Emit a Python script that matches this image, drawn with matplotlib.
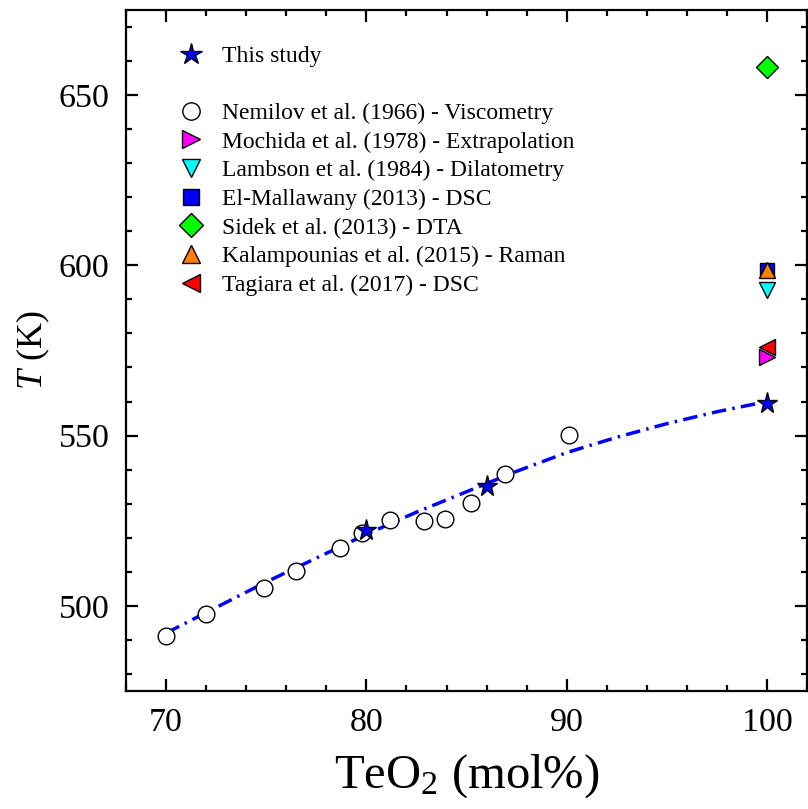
import matplotlib
matplotlib.use('Agg')
import matplotlib.pyplot as plt
from matplotlib.lines import Line2D
from matplotlib.ticker import MultipleLocator

plt.rcParams['font.family'] = 'Liberation Serif'
plt.rcParams['mathtext.fontset'] = 'custom'
plt.rcParams['mathtext.rm'] = 'Liberation Serif'
plt.rcParams['mathtext.it'] = 'Liberation Serif:italic'

# this study
study_x = [80, 86, 100]
study_T = [522.2, 535.1, 559.7]

# fitted curve through this study
fit_x = [70, 72.5, 75, 77.5, 80, 82.5, 85, 87.5, 90, 92.5, 95, 97.5, 100]
fit_T = [492, 499.5, 507, 514, 521, 527.5, 533.5, 539.5, 545, 549.5, 553.5, 557, 560]

# Nemilov et al. (1966)
nem_x = [70, 72, 74.9, 76.5, 78.7, 79.8, 81.2, 82.9, 83.9, 85.2, 86.9, 90.1]
nem_T = [491.2, 497.6, 505.2, 510.1, 517.0, 521.4, 525.1, 524.8, 525.5, 530.3, 538.7, 550.3]

# pure TeO2 literature values
mochida_T = 573.1
lambson_T = 592.9
elmall_T = 598.6
sidek_T = 658.2
kalamp_T = 598.6
tagiara_T = 576.1

fig, ax = plt.subplots(figsize=(8.08, 8.09), dpi=100)
fig.subplots_adjust(left=0.156, right=0.9988, bottom=0.146, top=0.9876)

ax.plot(fit_x, fit_T, color='blue', lw=2.5, linestyle=(0, (4.2, 1.8, 0.7, 1.8)), zorder=2)
ax.plot(nem_x, nem_T, 'o', ms=12, mfc='white', mec='black', mew=1.0, zorder=3)
ax.plot(study_x, study_T, '*', ms=15.5, mfc='blue', mec='black', mew=1.0, zorder=4)

ax.plot([100], [mochida_T], '>', ms=12, mfc='magenta', mec='black', mew=1.0, zorder=3)
ax.plot([100], [lambson_T], 'v', ms=12, mfc='cyan', mec='black', mew=1.0, zorder=3)
ax.plot([100], [elmall_T], 's', ms=10, mfc='blue', mec='black', mew=1.0, zorder=3)
ax.plot([100], [sidek_T], 'D', ms=11, mfc='#00ff00', mec='black', mew=1.0, zorder=3)
ax.plot([100], [kalamp_T], '^', ms=12, mfc='#ff7f00', mec='black', mew=1.0, zorder=3)
ax.plot([100], [tagiara_T], '<', ms=12, mfc='red', mec='black', mew=1.0, zorder=3)

handles = [
    Line2D([], [], ls='none', marker='*', ms=16, mfc='blue', mec='black'),
    Line2D([], [], ls='none'),
    Line2D([], [], ls='none', marker='o', ms=12.5, mfc='white', mec='black'),
    Line2D([], [], ls='none', marker='>', ms=13, mfc='magenta', mec='black'),
    Line2D([], [], ls='none', marker='v', ms=13, mfc='cyan', mec='black'),
    Line2D([], [], ls='none', marker='s', ms=11, mfc='blue', mec='black'),
    Line2D([], [], ls='none', marker='D', ms=12, mfc='#00ff00', mec='black'),
    Line2D([], [], ls='none', marker='^', ms=13, mfc='#ff7f00', mec='black'),
    Line2D([], [], ls='none', marker='<', ms=13, mfc='red', mec='black'),
]
labels = ['This study', ' ',
          'Nemilov et al. (1966) - Viscometry',
          'Mochida et al. (1978) - Extrapolation',
          'Lambson et al. (1984) - Dilatometry',
          'El-Mallawany (2013) - DSC',
          'Sidek et al. (2013) - DTA',
          'Kalampounias et al. (2015) - Raman',
          'Tagiara et al. (2017) - DSC']
ax.legend(handles, labels, loc='upper left', bbox_to_anchor=(0.064, 0.962),
          frameon=False, fontsize=17, labelspacing=0.3, handlelength=1.0,
          handletextpad=0.8, borderaxespad=0)

ax.set_xlim(68, 102)
ax.set_ylim(475, 675)
ax.xaxis.set_major_locator(MultipleLocator(10))
ax.xaxis.set_minor_locator(MultipleLocator(2))
ax.yaxis.set_major_locator(MultipleLocator(50))
ax.yaxis.set_minor_locator(MultipleLocator(10))
ax.tick_params(which='both', direction='in', top=True, right=True, width=1.6)
ax.tick_params(which='major', length=8.6, labelsize=24.5, pad=12)
ax.tick_params(which='minor', length=4.3)
for sp in ax.spines.values():
    sp.set_linewidth(1.6)

ax.set_xlabel(r'TeO$_2$ (mol%)', fontsize=35, labelpad=10)
ax.set_ylabel(r'$T$ (K)', fontsize=26, labelpad=5)

fig.savefig('out.png', dpi=100)
